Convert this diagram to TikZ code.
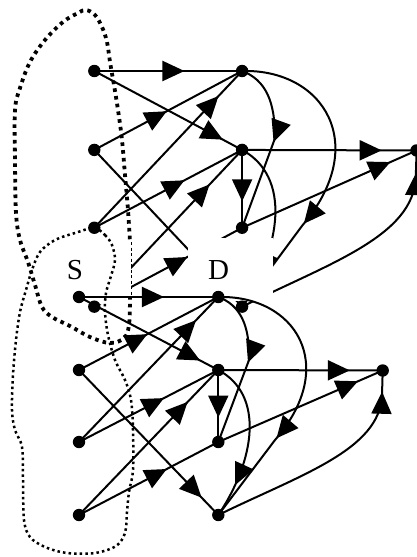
\documentclass[tikz,border=0pt]{standalone}
\usepackage{fontspec}
\setmainfont{Liberation Serif}
\usetikzlibrary{arrows.meta,decorations.markings}
\tikzset{
  link/.style={line width=2pt},
  midarrow/.style={postaction={decorate},decoration={markings,mark=at position #1 with {\arrow{Triangle[length=22pt,width=20pt]}}}},
  gdot/.style={circle,fill=black,inner sep=0pt,minimum size=12.4pt},
  thickdots/.style={line width=3.8pt,dash pattern=on 3.6pt off 4.2pt},
  thindots/.style={line width=2.5pt,dash pattern=on 2.5pt off 3.1pt},
  thindash/.style={line width=0.9pt,dash pattern=on 3pt off 2.5pt},
  lab/.style={font=\fontsize{29}{31}\selectfont,inner sep=0pt}
}
\newcommand{\mkgraphnodes}[1]{%
  \coordinate (#1L1) at (0,0);
  \coordinate (#1L2) at (0,73);
  \coordinate (#1L3) at (0,145);
  \coordinate (#1L4) at (0,218);
  \coordinate (#1M1) at (139.3,0);
  \coordinate (#1M2) at (139.3,73);
  \coordinate (#1M3) at (139.3,145);
  \coordinate (#1M4) at (139.3,218);
  \coordinate (#1R) at (303.7,73.5);
}
\newcommand{\mkgraphedges}[1]{%
  \draw[link,midarrow=0.61] (#1L1) -- (#1M1);
  \draw[link,midarrow=0.87] (#1L1) -- (#1M2);
  \draw[link,midarrow=0.49] (#1L2) -- (#1M1);
  \draw[link,midarrow=0.88] (#1L2) -- (#1M4);
  \draw[link,midarrow=0.84] (#1L3) -- (#1M1);
  \draw[link,midarrow=0.61] (#1L3) -- (#1M2);
  \draw[link,midarrow=0.78] (#1L4) -- (#1M2);
  \draw[link,midarrow=0.63] (#1L4) -- (#1M3);
  \draw[link,midarrow=0.48] (#1M1) .. controls (161,8) and (171,28) .. (170,63) -- (#1M3);
  \draw[link,midarrow=0.66] (#1M2) -- (#1M3);
  \draw[link,midarrow=0.79] (#1M2) .. controls (186,98) and (176,163) .. (#1M4);
  \draw[link,midarrow=0.68] (#1M1) .. controls (216,-2) and (261,68) .. (196,143) -- (#1M4);
  \draw[link,midarrow=0.8] (#1M2) -- (#1R);
  \draw[link,midarrow=0.85] (#1M3) -- (#1R);
  \draw[link,midarrow=0.91] (#1M4) .. controls (221,178) and (301,153) .. (303,98) -- (#1R);
}
\begin{document}
\begin{tikzpicture}[x=1pt,y=-1pt]
\useasboundingbox (0,0) rectangle (417,557);
% upper graph
\begin{scope}[shift={(94.3,71)},xscale=1.061,yscale=1.081]
  \mkgraphnodes{u}
  \mkgraphedges{u}
\end{scope}
% white cut-outs
\fill[white] (60,242) rectangle (131,304);
\fill[white] (188,238) rectangle (273,301);
\foreach \n in {L1,L2,L3,L4,M1,M2,M3,M4,R} \node[gdot] (du\n) at (u\n) {};
% lower graph
\begin{scope}[shift={(79,297)}]
  \mkgraphnodes{l}
  \mkgraphedges{l}
\end{scope}
\foreach \n in {L1,L2,L3,L4,M1,M2,M3,M4,R} \node[gdot] (dl\n) at (l\n) {};
% regions
\draw[thickdots] plot[smooth,tension=0.6] coordinates {(130,296) (129,325) (124,338) (110,343) (90,337) (70,326) (52,317) (42,307) (35,285) (28,262) (20,240) (16,213) (15,160) (15,110) (20,88) (30,62) (45,40) (63,22) (78,13) (86,10) (95,15) (102,27) (107,42) (110,62) (114,85) (118,110) (122,140) (125,175) (128,210) (130,242)};
\draw[thindash] (131,242) -- (131,298);
\draw[thindots] plot[smooth cycle,tension=0.55] coordinates {(94,228) (105,235) (112,245) (115,260) (111,276) (106,293) (105,312) (108,335) (115,360) (125,380) (131,400) (133,430) (133,470) (129,492) (127,512) (125,533) (116,546) (95,553) (67,553) (45,547) (30,537) (24,520) (23,480) (22,447) (15,430) (12,410) (13,375) (16,340) (20,312) (26,290) (32,270) (40,252) (55,240) (75,233)};
\node[lab] (S) at (75,270) {S};
\node[lab] (D) at (218.5,270) {D};
\end{tikzpicture}
\end{document}
